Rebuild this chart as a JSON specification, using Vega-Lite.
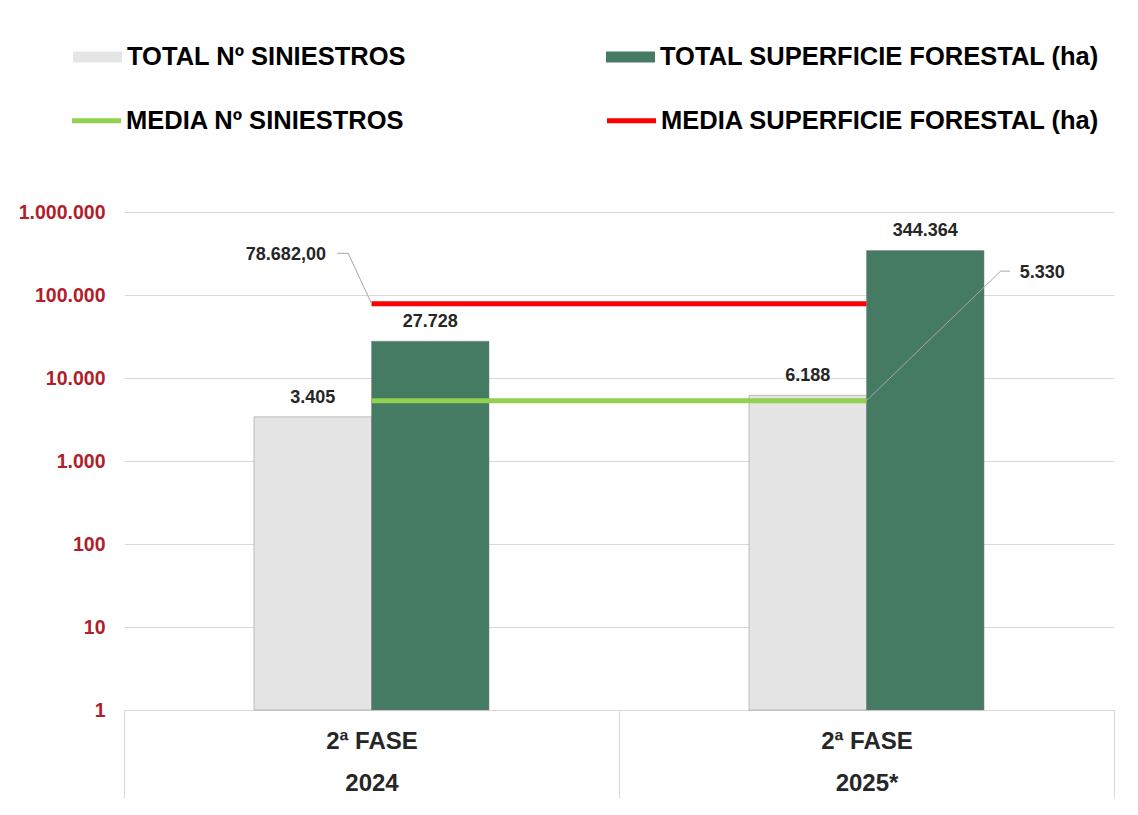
{
  "$schema": "https://vega.github.io/schema/vega-lite/v6.json",
  "width": 990,
  "height": 498,
  "autosize": {"type": "none"},
  "padding": {"left": 124, "top": 212, "right": 24, "bottom": 105},
  "background": "white",
  "config": {
    "locale": {"number": {"decimal": ",", "thousands": ".", "grouping": [3], "currency": ["", " €"]}},
    "view": {"stroke": null},
    "font": "Liberation Sans"
  },
  "datasets": {
    "bars": [
      {"year": "2024", "serie": "TOTAL Nº SINIESTROS", "value": 3405},
      {"year": "2024", "serie": "TOTAL SUPERFICIE FORESTAL (ha)", "value": 27728},
      {"year": "2025*", "serie": "TOTAL Nº SINIESTROS", "value": 6188},
      {"year": "2025*", "serie": "TOTAL SUPERFICIE FORESTAL (ha)", "value": 344364}
    ],
    "medias": [
      {"year": "2024", "media": "MEDIA Nº SINIESTROS", "value": 5330},
      {"year": "2025*", "media": "MEDIA Nº SINIESTROS", "value": 5330},
      {"year": "2024", "media": "MEDIA SUPERFICIE FORESTAL (ha)", "value": 78682},
      {"year": "2025*", "media": "MEDIA SUPERFICIE FORESTAL (ha)", "value": 78682}
    ],
    "guides": [
      {"g": "a", "o": 1, "gx": 0.5, "value": 78682},
      {"g": "a", "o": 2, "gx": 0.453, "value": 318000},
      {"g": "a", "o": 3, "gx": 0.431, "value": 318000},
      {"g": "b", "o": 1, "gx": 1.5, "value": 5330},
      {"g": "b", "o": 2, "gx": 1.771, "value": 194000},
      {"g": "b", "o": 3, "gx": 1.79, "value": 194000}
    ],
    "notes": [
      {"txt": "78.682,00", "gx": 0.327, "value": 303000},
      {"txt": "5.330", "gx": 1.855, "value": 185000}
    ]
  },
  "layer": [
    {
      "layer": [
        {
          "data": {"name": "bars"},
          "mark": {"type": "bar", "stroke": "#7F7F7F", "strokeOpacity": 0.45, "strokeWidth": 1},
          "encoding": {
            "x": {
              "field": "year", "type": "nominal", "sort": null,
              "scale": {"paddingInner": 0, "paddingOuter": 0},
              "axis": {
                "title": null, "tickBand": "extent", "ticks": true, "tickSize": 88,
                "tickColor": "#D9D9D9", "domainColor": "#D9D9D9",
                "labelExpr": "datum.label ? ['2ª FASE', datum.label] : ''",
                "labelFontSize": 24, "labelFontWeight": "bold", "labelColor": "#262626",
                "labelLineHeight": 42, "labelPadding": -69, "labelAngle": 0, "labelBaseline": "top"
              }
            },
            "xOffset": {
              "field": "serie", "type": "nominal", "sort": null,
              "scale": {"domain": ["izq", "TOTAL Nº SINIESTROS", "TOTAL SUPERFICIE FORESTAL (ha)", "der"], "paddingInner": 0, "paddingOuter": 0.106}
            },
            "y": {
              "field": "value", "type": "quantitative",
              "scale": {"type": "log", "domain": [1, 1000000], "nice": false},
              "axis": {
                "title": null, "values": [1, 10, 100, 1000, 10000, 100000, 1000000], "format": ",d",
                "labelFontSize": 19.5, "labelFontWeight": "bold", "labelColor": "#B01E2A",
                "ticks": false, "domain": false, "grid": true, "gridColor": "#D9D9D9", "labelPadding": 19
              }
            },
            "y2": {"datum": 1},
            "color": {
              "field": "serie", "type": "nominal", "sort": null,
              "scale": {"domain": ["TOTAL Nº SINIESTROS", "TOTAL SUPERFICIE FORESTAL (ha)"], "range": ["#E5E5E5", "#457B62"]},
              "legend": {
                "title": null, "orient": "none", "legendX": -51, "legendY": -179.5, "direction": "horizontal",
                "columns": 2, "columnPadding": 200, "padding": 0,
                "symbolType": "M-1,-0.22L1,-0.22L1,0.22L-1,0.22Z", "symbolSize": 2401, "symbolStrokeWidth": 0,
                "symbolOpacity": 1,
                "labelFontSize": 25.5, "labelFontWeight": "bold", "labelColor": "#000000", "labelLimit": 1000, "labelOffset": 5
              }
            }
          }
        },
        {
          "data": {"name": "bars"},
          "mark": {"type": "text", "dy": -19, "fontSize": 18, "fontWeight": "bold", "color": "#262626", "baseline": "middle"},
          "encoding": {
            "x": {"field": "year", "type": "nominal", "sort": null},
            "xOffset": {"field": "serie", "type": "nominal", "sort": null},
            "y": {"field": "value", "type": "quantitative"},
            "text": {"field": "value", "type": "quantitative", "format": ",d"}
          }
        },
        {
          "data": {"name": "medias"},
          "mark": {"type": "line", "strokeWidth": 5, "strokeCap": "butt"},
          "encoding": {
            "x": {"field": "year", "type": "nominal", "sort": null},
            "y": {"field": "value", "type": "quantitative"},
            "stroke": {
              "field": "media", "type": "nominal", "sort": null,
              "scale": {"domain": ["MEDIA Nº SINIESTROS", "MEDIA SUPERFICIE FORESTAL (ha)"], "range": ["#92D050", "#FF0000"]},
              "legend": {
                "title": null, "orient": "none", "legendX": -54.5, "legendY": -118.5, "direction": "horizontal",
                "columns": 2, "columnPadding": 191, "padding": 0,
                "symbolType": "stroke", "symbolSize": 2401, "symbolStrokeWidth": 5, "symbolOpacity": 1,
                "labelFontSize": 25.5, "labelFontWeight": "bold", "labelColor": "#000000", "labelLimit": 1000, "labelOffset": 2.5
              }
            }
          }
        }
      ]
    },
    {
      "layer": [
        {
          "data": {"name": "guides"},
          "mark": {"type": "line", "stroke": "#A6A6A6", "strokeWidth": 1},
          "encoding": {
            "x": {"field": "gx", "type": "quantitative", "scale": {"domain": [0, 2], "nice": false, "zero": false}, "axis": null},
            "y": {"field": "value", "type": "quantitative"},
            "detail": {"field": "g", "type": "nominal"},
            "order": {"field": "o", "type": "quantitative"}
          }
        },
        {
          "data": {"name": "notes"},
          "mark": {"type": "text", "fontSize": 18, "fontWeight": "bold", "color": "#262626", "baseline": "middle"},
          "encoding": {
            "x": {"field": "gx", "type": "quantitative"},
            "y": {"field": "value", "type": "quantitative"},
            "text": {"field": "txt", "type": "nominal"}
          }
        }
      ]
    }
  ],
  "resolve": {"scale": {"x": "independent"}}
}
